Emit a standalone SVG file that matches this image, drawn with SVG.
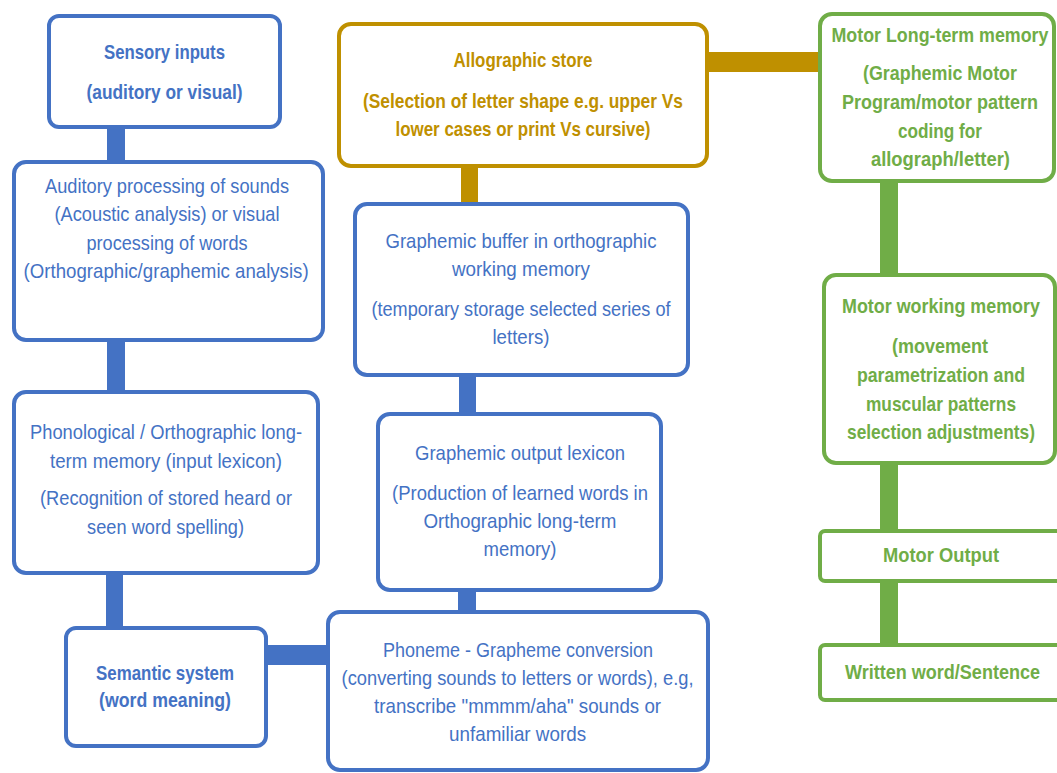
<svg xmlns="http://www.w3.org/2000/svg" width="1057" height="773" viewBox="0 0 1057 773">
<style>
.b{fill:#fff;stroke:#4472C4;stroke-width:4}
.g{fill:#fff;stroke:#BF9000;stroke-width:4}
.gr{fill:#fff;stroke:#70AD47;stroke-width:4}
text{font-family:"Liberation Sans",Arial,sans-serif;font-size:20px;text-anchor:middle}
.tb{fill:#4472C4}
.tg{fill:#BF9000;font-weight:bold}
.tgr{fill:#70AD47;font-weight:bold}
.bold{font-weight:bold}
.cb{fill:#4472C4}
.cg{fill:#BF9000}
.cgr{fill:#70AD47}
</style>
<rect width="1057" height="773" fill="#fff"/>
<g id="connectors">
<rect class="cb" x="107" y="125" width="18" height="40"/>
<rect class="cb" x="107" y="338" width="18" height="56"/>
<rect class="cb" x="106" y="571" width="17" height="59"/>
<rect class="cb" x="264" y="645" width="66" height="20"/>
<rect class="cg" x="461" y="164" width="17" height="42"/>
<rect class="cb" x="459" y="373" width="17" height="43"/>
<rect class="cb" x="458" y="588" width="18" height="26"/>
<rect class="cg" x="705" y="52" width="117" height="20"/>
<rect class="cgr" x="880" y="179" width="18" height="98"/>
<rect class="cgr" x="880" y="461" width="18" height="72"/>
<rect class="cgr" x="880" y="579" width="18" height="68"/>
</g>
<g id="sensory">
<rect class="b" x="49" y="16" width="231" height="111" rx="10"/>
<g transform="matrix(.88 0 0 1 19.74 0)">
<text class="tb bold" x="164.5" y="59" textLength="137.5" lengthAdjust="spacingAndGlyphs">Sensory inputs</text>
<text class="tb bold" x="164.5" y="99" textLength="177.3" lengthAdjust="spacingAndGlyphs">(auditory or visual)</text>
</g>
</g>
<g id="auditory">
<rect class="b" x="14" y="162" width="309" height="178" rx="12"/>
<g transform="matrix(.88 0 0 1 20.04 0)">
<text class="tb" x="167" y="193" textLength="277.3" lengthAdjust="spacingAndGlyphs">Auditory processing of sounds</text>
<text class="tb" x="167" y="221" textLength="255.7" lengthAdjust="spacingAndGlyphs">(Acoustic analysis) or visual</text>
<text class="tb" x="167" y="250" textLength="183" lengthAdjust="spacingAndGlyphs">processing of words</text>
<text class="tb" x="166" y="278" textLength="323.9" lengthAdjust="spacingAndGlyphs">(Orthographic/graphemic analysis)</text>
</g>
</g>
<g id="phonological">
<rect class="b" x="14" y="392" width="304" height="181" rx="12"/>
<g transform="matrix(.88 0 0 1 19.92 0)">
<text class="tb" x="166" y="439" textLength="309.1" lengthAdjust="spacingAndGlyphs">Phonological / Orthographic long-</text>
<text class="tb" x="166" y="468" textLength="263.6" lengthAdjust="spacingAndGlyphs">term memory (input lexicon)</text>
<text class="tb" x="166" y="505" textLength="286.4" lengthAdjust="spacingAndGlyphs">(Recognition of stored heard or</text>
<text class="tb" x="165.5" y="534" textLength="178.4" lengthAdjust="spacingAndGlyphs">seen word spelling)</text>
</g>
</g>
<g id="semantic">
<rect class="b" x="66" y="628" width="200" height="118" rx="10"/>
<g transform="matrix(.88 0 0 1 19.8 0)">
<text class="tb bold" x="165" y="680" textLength="156.8" lengthAdjust="spacingAndGlyphs">Semantic system</text>
<text class="tb bold" x="165" y="707" textLength="150" lengthAdjust="spacingAndGlyphs">(word meaning)</text>
</g>
</g>
<g id="allographic">
<rect class="g" x="339" y="24" width="368" height="142" rx="12"/>
<g transform="matrix(.88 0 0 1 62.76 0)">
<text class="tg" x="523" y="67" textLength="158" lengthAdjust="spacingAndGlyphs">Allographic store</text>
<text class="tg" x="523" y="108" textLength="363.6" lengthAdjust="spacingAndGlyphs">(Selection of letter shape e.g. upper Vs</text>
<text class="tg" x="523" y="136" textLength="289.8" lengthAdjust="spacingAndGlyphs">lower cases or print Vs cursive)</text>
</g>
</g>
<g id="buffer">
<rect class="b" x="355" y="204" width="333" height="171" rx="12"/>
<g transform="matrix(.88 0 0 1 62.52 0)">
<text class="tb" x="521" y="248" textLength="308" lengthAdjust="spacingAndGlyphs">Graphemic buffer in orthographic</text>
<text class="tb" x="521" y="276" textLength="156.8" lengthAdjust="spacingAndGlyphs">working memory</text>
<text class="tb" x="521" y="316" textLength="339.8" lengthAdjust="spacingAndGlyphs">(temporary storage selected series of</text>
<text class="tb" x="521" y="344" textLength="64.8" lengthAdjust="spacingAndGlyphs">letters)</text>
</g>
</g>
<g id="output-lexicon">
<rect class="b" x="378" y="414" width="283" height="176" rx="12"/>
<g transform="matrix(.88 0 0 1 62.4 0)">
<text class="tb" x="520" y="460" textLength="238.6" lengthAdjust="spacingAndGlyphs">Graphemic output lexicon</text>
<text class="tb" x="520" y="500" textLength="290.9" lengthAdjust="spacingAndGlyphs">(Production of learned words in</text>
<text class="tb" x="520" y="528" textLength="219.3" lengthAdjust="spacingAndGlyphs">Orthographic long-term</text>
<text class="tb" x="520" y="556" textLength="83" lengthAdjust="spacingAndGlyphs">memory)</text>
</g>
</g>
<g id="phoneme">
<rect class="b" x="328" y="612" width="380" height="158" rx="12"/>
<g transform="matrix(.88 0 0 1 62.16 0)">
<text class="tb" x="518" y="657" textLength="306.8" lengthAdjust="spacingAndGlyphs">Phoneme - Grapheme conversion</text>
<text class="tb" x="517.5" y="685" textLength="400" lengthAdjust="spacingAndGlyphs">(converting sounds to letters or words), e.g,</text>
<text class="tb" x="517.5" y="713" textLength="326.1" lengthAdjust="spacingAndGlyphs">transcribe "mmmm/aha" sounds or</text>
<text class="tb" x="517.5" y="741" textLength="155.7" lengthAdjust="spacingAndGlyphs">unfamiliar words</text>
</g>
</g>
<g id="motor-ltm">
<rect class="gr" x="820" y="14" width="234" height="167" rx="12"/>
<g transform="matrix(.88 0 0 1 112.8 0)">
<text class="tgr" x="940" y="42" textLength="246.6" lengthAdjust="spacingAndGlyphs">Motor Long-term memory</text>
<text class="tgr" x="940" y="80" textLength="175" lengthAdjust="spacingAndGlyphs">(Graphemic Motor</text>
<text class="tgr" x="940" y="109" textLength="222.7" lengthAdjust="spacingAndGlyphs">Program/motor pattern</text>
<text class="tgr" x="940" y="138" textLength="95.5" lengthAdjust="spacingAndGlyphs">coding for</text>
<text class="tgr" x="940.5" y="166" textLength="158" lengthAdjust="spacingAndGlyphs">allograph/letter)</text>
</g>
</g>
<g id="motor-wm">
<rect class="gr" x="824" y="275" width="231" height="188" rx="12"/>
<g transform="matrix(.88 0 0 1 112.92 0)">
<text class="tgr" x="941" y="313" textLength="225" lengthAdjust="spacingAndGlyphs">Motor working memory</text>
<text class="tgr" x="940" y="353" textLength="109.1" lengthAdjust="spacingAndGlyphs">(movement</text>
<text class="tgr" x="941" y="382" textLength="190.9" lengthAdjust="spacingAndGlyphs">parametrization and</text>
<text class="tgr" x="941" y="411" textLength="170.5" lengthAdjust="spacingAndGlyphs">muscular patterns</text>
<text class="tgr" x="941" y="439" textLength="213.6" lengthAdjust="spacingAndGlyphs">selection adjustments)</text>
</g>
</g>
<g id="motor-output">
<rect class="gr" x="820" y="531" width="250" height="50" rx="5"/>
<g transform="matrix(.88 0 0 1 112.92 0)">
<text class="tgr" x="941" y="562" textLength="131.8" lengthAdjust="spacingAndGlyphs">Motor Output</text>
</g>
</g>
<g id="written">
<rect class="gr" x="820" y="645" width="250" height="55" rx="5"/>
<g transform="matrix(.88 0 0 1 113.1 0)">
<text class="tgr" x="942.5" y="679" textLength="221.6" lengthAdjust="spacingAndGlyphs">Written word/Sentence</text>
</g>
</g>
</svg>
